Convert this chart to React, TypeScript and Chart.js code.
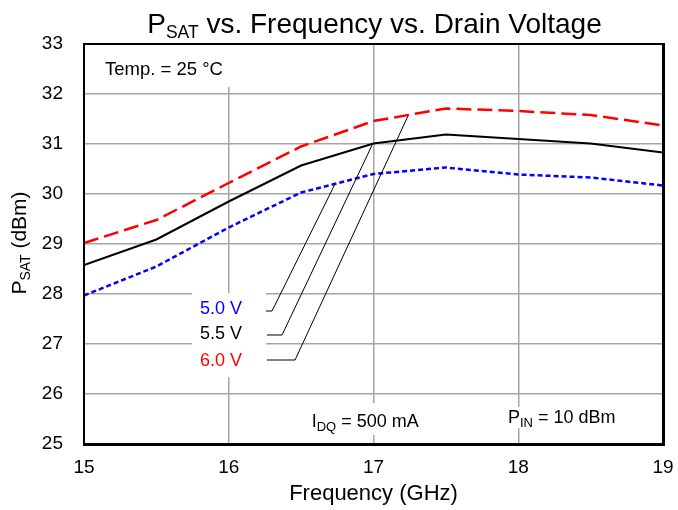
import React, { useEffect, useRef } from "react";
import { Chart, registerables } from "chart.js";

Chart.register(...registerables);

const FREQ = [15, 15.5, 16, 16.5, 17, 17.5, 18, 18.5, 19];
const V50 = [27.97, 28.55, 29.33, 30.03, 30.4, 30.53, 30.39, 30.33, 30.17];
const V55 = [28.58, 29.09, 29.85, 30.57, 31.01, 31.19, 31.1, 31.01, 30.83];
const V60 = [29.02, 29.48, 30.22, 30.95, 31.46, 31.71, 31.66, 31.58, 31.37];
const SERIES_LABELS = ["5.0 V", "5.5 V", "6.0 V"];
const X_TICKS = [15, 16, 17, 18, 19];
const Y_TICKS = [25, 26, 27, 28, 29, 30, 31, 32, 33];

const FONT = "'Liberation Sans', Arial, sans-serif";

type Part = { t: string; sub?: boolean };

function richWidth(ctx: CanvasRenderingContext2D, parts: Part[], main: number, sub: number) {
  let w = 0;
  for (const p of parts) {
    ctx.font = `${p.sub ? sub : main}px ${FONT}`;
    w += ctx.measureText(p.t).width;
  }
  return w;
}

function drawRich(
  ctx: CanvasRenderingContext2D,
  parts: Part[],
  x: number,
  y: number,
  main: number,
  sub: number,
  subDy: number,
  color: string
) {
  ctx.fillStyle = color;
  ctx.textBaseline = "alphabetic";
  ctx.textAlign = "left";
  let cx = x;
  for (const p of parts) {
    ctx.font = `${p.sub ? sub : main}px ${FONT}`;
    ctx.fillText(p.t, cx, y + (p.sub ? subDy : 0));
    cx += ctx.measureText(p.t).width;
  }
}

const overlay = {
  id: "overlay",
  beforeDatasetsDraw(chart: any) {
    const { ctx, scales } = chart;
    const x = scales.x, y = scales.y;
    const boxes = [
      [15.055, 16.078, 32.98, 32.14],
      [15.746, 16.257, 28.02, 26.34],
      [16.534, 17.349, 25.82, 25.18],
      [17.902, 18.717, 25.74, 25.32],
    ];
    ctx.save();
    ctx.fillStyle = "#ffffff";
    for (const [x0, x1, y0, y1] of boxes) {
      const px0 = x.getPixelForValue(x0), px1 = x.getPixelForValue(x1);
      const py0 = y.getPixelForValue(y0), py1 = y.getPixelForValue(y1);
      ctx.fillRect(px0, py0, px1 - px0, py1 - py0);
    }
    ctx.restore();
  },
  afterDraw(chart: any) {
    const { ctx, scales, chartArea } = chart;
    const x = scales.x, y = scales.y;
    const X = (v: number) => x.getPixelForValue(v);
    const Y = (v: number) => y.getPixelForValue(v);
    ctx.save();

    // leader lines
    const leaders = [
      [16.257, 16.299, 27.66, 16.734, 30.2],
      [16.264, 16.368, 27.18, 16.997, 31.02],
      [16.264, 16.458, 26.68, 17.238, 31.56],
    ];
    ctx.strokeStyle = "#000";
    ctx.lineWidth = 1;
    for (const [a, b, yy, c, d] of leaders) {
      ctx.beginPath();
      ctx.moveTo(X(a), Y(yy));
      ctx.lineTo(X(b), Y(yy));
      ctx.lineTo(X(c), Y(d));
      ctx.stroke();
    }

    // series labels
    const labelColors = ["#0000ff", "#000000", "#ff0000"];
    const labelY = [27.7, 27.2, 26.66];
    ctx.font = `18px ${FONT}`;
    ctx.textAlign = "right";
    ctx.textBaseline = "middle";
    SERIES_LABELS.forEach((s, i) => {
      ctx.fillStyle = labelColors[i];
      ctx.fillText(s, X(16.092), Y(labelY[i]));
    });

    // temp
    ctx.font = `18.5px ${FONT}`;
    ctx.textAlign = "left";
    ctx.textBaseline = "middle";
    ctx.fillStyle = "#000";
    ctx.fillText("Temp. = 25 °C", X(15.145), Y(32.48));

    drawRich(ctx, [{ t: "I" }, { t: "DQ", sub: true }, { t: " = 500 mA" }], X(16.573), Y(25.346), 18, 13, 4, "#000");
    drawRich(ctx, [{ t: "P" }, { t: "IN", sub: true }, { t: " = 10 dBm" }], X(17.929), Y(25.414), 18, 13, 4, "#000");

    // border
    ctx.strokeStyle = "#000";
    ctx.lineWidth = 2;
    ctx.strokeRect(chartArea.left, chartArea.top, chartArea.right - chartArea.left, chartArea.bottom - chartArea.top);
    ctx.lineWidth = 3;
    ctx.beginPath();
    ctx.moveTo(chartArea.left - 1, chartArea.bottom + 0.5);
    ctx.lineTo(chartArea.right + 0.5, chartArea.bottom + 0.5);
    ctx.lineTo(chartArea.right + 0.5, chartArea.top - 1);
    ctx.stroke();

    // title
    const titleParts: Part[] = [{ t: "P" }, { t: "SAT", sub: true }, { t: " vs. Frequency vs. Drain Voltage" }];
    const tw = richWidth(ctx, titleParts, 28, 17.5);
    const cxT = (chartArea.left + chartArea.right) / 2 + 1;
    drawRich(ctx, titleParts, cxT - tw / 2, 33, 28, 17.5, 5, "#000");

    // y title
    const yParts: Part[] = [{ t: "P" }, { t: "SAT", sub: true }, { t: " (dBm)" }];
    const yw = richWidth(ctx, yParts, 21, 14);
    ctx.translate(26, (chartArea.top + chartArea.bottom) / 2 - 1);
    ctx.rotate(-Math.PI / 2);
    drawRich(ctx, yParts, -yw / 2, 0, 21, 14, 4, "#000");

    ctx.restore();
  },
};

export default function App() {
  const ref = useRef<HTMLCanvasElement>(null);
  useEffect(() => {
    if (!ref.current) return;
    const mk = (vals: number[]) => FREQ.map((f, i) => ({ x: f, y: vals[i] }));
    const chart = new Chart(ref.current, {
      type: "line",
      data: {
        datasets: [
          { label: SERIES_LABELS[0], data: mk(V50), borderColor: "#0000ff", borderWidth: 2.5, borderDash: [5, 3], pointRadius: 0, tension: 0, fill: false },
          { label: SERIES_LABELS[1], data: mk(V55), borderColor: "#000000", borderWidth: 2, pointRadius: 0, tension: 0, fill: false },
          { label: SERIES_LABELS[2], data: mk(V60), borderColor: "#ff0000", borderWidth: 2.5, borderDash: [15, 6], pointRadius: 0, tension: 0, fill: false },
        ],
      },
      options: {
        responsive: false,
        animation: false,
        devicePixelRatio: 1,
        layout: { padding: { left: 0, right: 15, top: 44, bottom: 0 } },
        plugins: { legend: { display: false }, tooltip: { enabled: false }, title: { display: false } },
        scales: {
          x: {
            type: "linear",
            min: 15,
            max: 19,
            afterBuildTicks: (s: any) => { s.ticks = X_TICKS.map((v) => ({ value: v })); },
            afterFit: (s: any) => { s.height = 66; s.paddingLeft = 0; s.paddingRight = 0; },
            grid: { color: "#a6a6a6", lineWidth: 1.5, drawTicks: false },
            border: { display: false },
            ticks: { color: "#000", padding: 12, font: { family: FONT, size: 19 } },
            title: { display: true, text: "Frequency (GHz)", color: "#000", font: { family: FONT, size: 22 }, padding: { top: 0, bottom: 3 } },
          },
          y: {
            type: "linear",
            min: 25,
            max: 33,
            afterBuildTicks: (s: any) => { s.ticks = Y_TICKS.map((v) => ({ value: v })); },
            afterFit: (s: any) => { s.width = 84; s.paddingTop = 0; s.paddingBottom = 0; },
            grid: { color: "#a6a6a6", lineWidth: 1.5, drawTicks: false },
            border: { display: false },
            ticks: { color: "#000", padding: 21, font: { family: FONT, size: 19 } },
          },
        },
      },
      plugins: [overlay],
    } as any);
    return () => chart.destroy();
  }, []);
  return (
    <div style={{ position: "fixed", left: 0, top: 0, width: 678, height: 510, background: "#fff" }}>
      <canvas ref={ref} width={678} height={510} />
    </div>
  );
}
